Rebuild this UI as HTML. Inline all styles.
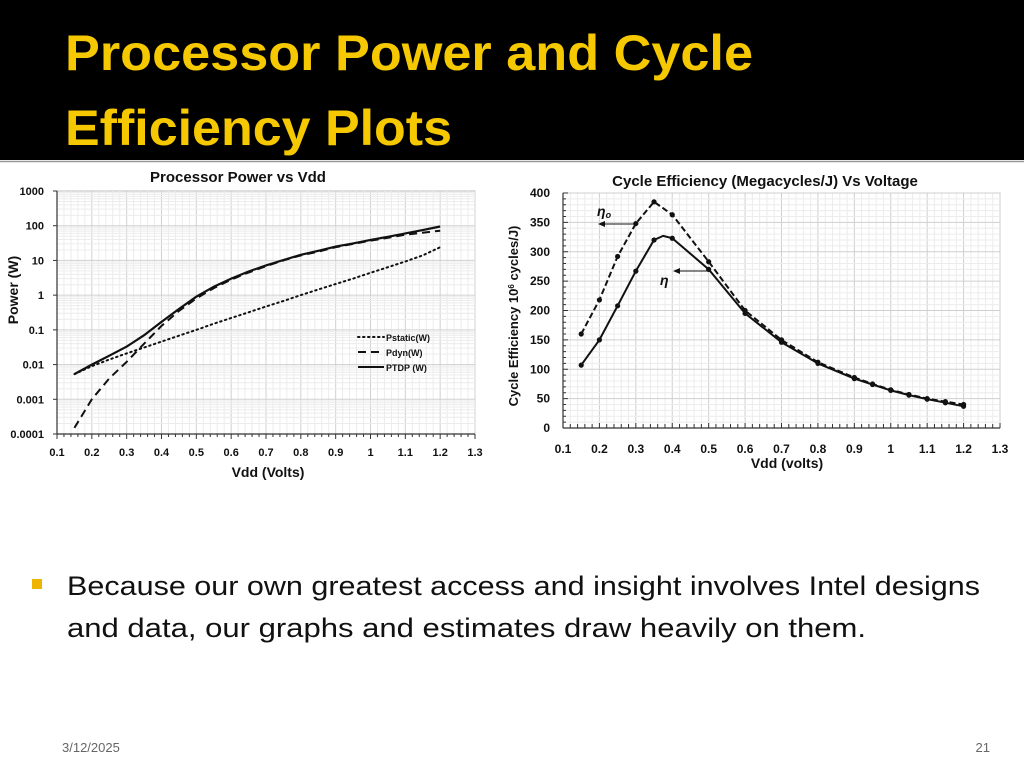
<!DOCTYPE html>
<html><head><meta charset="utf-8"><style>
html,body{margin:0;padding:0;background:#fff;}
svg{display:block;font-family:"Liberation Sans",sans-serif;}
</style></head><body>
<svg id="page" width="1024" height="768" viewBox="0 0 1024 768">
<rect x="0" y="0" width="1024" height="160" fill="#000"/>
<text x="65" y="70" font-size="50" font-weight="bold" fill="#f5c800" textLength="688" lengthAdjust="spacingAndGlyphs">Processor Power and Cycle</text>
<text x="65" y="145" font-size="50" font-weight="bold" fill="#f5c800" textLength="387" lengthAdjust="spacingAndGlyphs">Efficiency Plots</text>
<line x1="0" y1="161.5" x2="1024" y2="161.5" stroke="#999" stroke-width="1.5"/>
<g id="left"></g>
<g id="right"></g>
<rect x="32" y="579" width="10" height="10" fill="#f0b400"/>
<text x="67" y="595" font-size="27" fill="#111" textLength="913" lengthAdjust="spacingAndGlyphs">Because our own greatest access and insight involves Intel designs</text>
<text x="67" y="637" font-size="27" fill="#111" textLength="799" lengthAdjust="spacingAndGlyphs">and data, our graphs and estimates draw heavily on them.</text>
<text x="62" y="752" font-size="13" fill="#666">3/12/2025</text>
<text x="990" y="752" font-size="13" fill="#666" text-anchor="end">21</text>
</svg>
<script>
const NS="http://www.w3.org/2000/svg";
// ---- Power chart data ----
const vddPower=[0.15,0.2,0.25,0.3,0.35,0.4,0.45,0.5,0.55,0.6,0.65,0.7,0.75,0.8,0.85,0.9,0.95,1.0,1.05,1.1,1.15,1.2];
const pStatic=[0.0053,0.009,0.014,0.021,0.031,0.046,0.068,0.1,0.15,0.22,0.32,0.47,0.68,1.0,1.45,2.1,3.0,4.4,6.4,9.3,14,24];
const pDyn=[0.00015,0.001,0.004,0.012,0.04,0.13,0.35,0.8,1.6,2.8,4.5,6.8,10,14,18,24,30,37,45,55,63,72];
const pTDP=[0.0053,0.01,0.018,0.033,0.07,0.17,0.4,0.9,1.75,3.0,4.8,7.2,10.3,14.5,19,25,31,39,48,60,75,95];
const powerYTicks=["1000","100","10","1","0.1","0.01","0.001","0.0001"];
const xTickLabels=["0.1","0.2","0.3","0.4","0.5","0.6","0.7","0.8","0.9","1","1.1","1.2","1.3"];
// ---- Efficiency chart data ----
const vddEta0=[0.15,0.2,0.25,0.3,0.35,0.4,0.5,0.6,0.7,0.8,0.9,0.95,1.0,1.05,1.1,1.15,1.2];
const eta0=[160,218,292,348,385,363,283,200,150,112,86,75,65,57,50,45,40];
const vddEta=[0.15,0.2,0.25,0.3,0.35,0.375,0.4,0.5,0.6,0.7,0.8,0.9,0.95,1.0,1.05,1.1,1.15,1.2];
const eta=[107,150,208,267,320,327,323,270,195,146,110,84,74,64,56,49,43,37];
const effYTicks=[0,50,100,150,200,250,300,350,400];

function el(parent,tag,attrs){const e=document.createElementNS(NS,tag);for(const k in attrs)e.setAttribute(k,attrs[k]);parent.appendChild(e);return e;}
function txt(parent,x,y,s,attrs){const t=el(parent,'text',Object.assign({x:x,y:y},attrs));t.textContent=s;return t;}

// Left chart
(function(){
const g=document.getElementById('left');
const x0=57,x1=475,yTop=191,yBot=434;
const X=v=>x0+(v-0.1)/1.2*(x1-x0);
const Y=p=>yBot-(Math.log10(p)+4)/7*(yBot-yTop);
el(g,'rect',{x:x0,y:yTop,width:x1-x0,height:yBot-yTop,fill:'#fff',stroke:'#bbb'});
for(let i=0;i<=60;i++){const v=0.1+i*0.02;const l=el(g,'line',{x1:X(v),x2:X(v),y1:yTop,y2:yBot,stroke:i%5==0?'#d0d0d0':'#ececec','stroke-width':1});}
for(let d=-4;d<3;d++){for(let m=1;m<10;m++){const yy=Y(m*Math.pow(10,d));el(g,'line',{x1:x0,x2:x1,y1:yy,y2:yy,stroke:m==1?'#d0d0d0':'#ececec'});}}
el(g,'line',{x1:x0,x2:x1,y1:yBot,y2:yBot,stroke:'#333','stroke-width':1.2});
el(g,'line',{x1:x0,x2:x0,y1:yTop,y2:yBot,stroke:'#333','stroke-width':1.2});
for(let i=0;i<=60;i++){const v=0.1+i*0.02;el(g,'line',{x1:X(v),x2:X(v),y1:yBot,y2:yBot+(i%5==0?5:3),stroke:'#333'});}
xTickLabels.forEach((s)=>{const t=txt(g,X(parseFloat(s)),456,s,{'font-size':11,'font-weight':'bold','text-anchor':'middle',fill:'#111'});});
powerYTicks.forEach((s)=>{const t=txt(g,44,Y(parseFloat(s))+4,s,{'font-size':11,'font-weight':'bold','text-anchor':'end',fill:'#111'});el(g,'line',{x1:x0-4,x2:x0,y1:Y(parseFloat(s)),y2:Y(parseFloat(s)),stroke:'#333'});});
let t=txt(g,238,182,'Processor Power vs Vdd',{'font-size':15,'font-weight':'bold','text-anchor':'middle',fill:'#111'});

t=txt(g,268,477,'Vdd (Volts)',{'font-size':14,'font-weight':'bold','text-anchor':'middle',fill:'#111'});

t=txt(g,0,0,'Power (W)',{'font-size':14,'font-weight':'bold','text-anchor':'middle',fill:'#111',transform:'translate(18,290) rotate(-90)'});

function series(xs,ys,dash,w,name){const d=xs.map((v,i)=>(i?'L':'M')+X(v).toFixed(1)+','+Y(ys[i]).toFixed(1)).join(' ');const p=el(g,'path',{d:d,fill:'none',stroke:'#111','stroke-width':w,'stroke-dasharray':dash,'stroke-linecap':dash=='1.5 3.5'?'round':'butt'});}
series(vddPower,pStatic,'1.5 3.5',2,'pstatic-line');
series(vddPower,pDyn,'8 5',2,'pdyn-line');
series(vddPower,pTDP,'none',2.2,'ptdp-line');
const lg=el(g,'g',{});
[['1.5 3.5','Pstatic(W)',341],['8 5','Pdyn(W)',356],['none','PTDP (W)',371]].forEach(a=>{el(lg,'line',{x1:358,x2:384,y1:a[2]-4,y2:a[2]-4,stroke:'#111','stroke-width':2,'stroke-dasharray':a[0],'stroke-linecap':a[0]=='1.5 3.5'?'round':'butt'});const tt=txt(lg,386,a[2],a[1],{'font-size':9,'font-weight':'bold',fill:'#111'});});
})();

// Right chart
(function(){
const g=document.getElementById('right');
const x0=563,x1=1000,yTop=193,yBot=428;
const X=v=>x0+(v-0.1)/1.2*(x1-x0);
const Y=v=>yBot-v/400*(yBot-yTop);
el(g,'rect',{x:x0,y:yTop,width:x1-x0,height:yBot-yTop,fill:'#fff',stroke:'#bbb'});
for(let i=0;i<=60;i++){const v=0.1+i*0.02;el(g,'line',{x1:X(v),x2:X(v),y1:yTop,y2:yBot,stroke:i%5==0?'#cfcfcf':'#ececec'});}
for(let i=0;i<=40;i++){const yy=Y(i*10);el(g,'line',{x1:x0,x2:x1,y1:yy,y2:yy,stroke:i%5==0?'#cfcfcf':'#ececec'});}
el(g,'line',{x1:x0,x2:x1,y1:yBot,y2:yBot,stroke:'#333','stroke-width':1.2});
el(g,'line',{x1:x0,x2:x0,y1:yTop,y2:yBot,stroke:'#333','stroke-width':1.2});
for(let i=0;i<=60;i++){const v=0.1+i*0.02;el(g,'line',{x1:X(v),x2:X(v),y1:yBot,y2:yBot-(i%5==0?5:4),stroke:'#333'});}
for(let i=0;i<=40;i++){el(g,'line',{x1:x0,x2:x0+(i%5==0?5:3),y1:Y(i*10),y2:Y(i*10),stroke:'#333'});}
xTickLabels.forEach(s=>{const t=txt(g,X(parseFloat(s)),453,s,{'font-size':12,'font-weight':'bold','text-anchor':'middle',fill:'#111'});});
effYTicks.forEach(v=>{const t=txt(g,550,Y(v)+4,String(v),{'font-size':12,'font-weight':'bold','text-anchor':'end',fill:'#111'});});
let t=txt(g,765,186,'Cycle Efficiency (Megacycles/J) Vs Voltage',{'font-size':15,'font-weight':'bold','text-anchor':'middle',fill:'#111'});

t=txt(g,787,468,'Vdd (volts)',{'font-size':14,'font-weight':'bold','text-anchor':'middle',fill:'#111'});

t=el(g,'text',{x:0,y:0,'font-size':13,'font-weight':'bold','text-anchor':'middle',fill:'#111',transform:'translate(518,316) rotate(-90)'});
t.innerHTML='Cycle Efficiency 10<tspan baseline-shift="super" font-size="8">6</tspan> cycles/J)';

function series(xs,ys,dash,name){const d=xs.map((v,i)=>(i?'L':'M')+X(v).toFixed(1)+','+Y(ys[i]).toFixed(1)).join(' ');const p=el(g,'path',{d:d,fill:'none',stroke:'#111','stroke-width':2,'stroke-dasharray':dash,'stroke-linejoin':'round'});
xs.forEach((v,i)=>{if(name=='eta-line'&&v==0.375)return;const c=el(g,'circle',{cx:X(v),cy:Y(ys[i]),r:2.6,fill:'#111'});});}
series(vddEta0,eta0,'6 3','eta0-line');
series(vddEta,eta,'none','eta-line');
// annotations
el(g,'line',{x1:637,x2:603,y1:224,y2:224,stroke:'#111','stroke-width':1});
el(g,'path',{d:'M598,224 L605,221 L605,227 Z',fill:'#111'});
el(g,'line',{x1:710,x2:678,y1:271,y2:271,stroke:'#111','stroke-width':1});
el(g,'path',{d:'M673,271 L680,268 L680,274 Z',fill:'#111'});
t=el(g,'text',{x:597,y:216,'font-size':14,'font-style':'italic','font-weight':'bold',fill:'#111'});
t.innerHTML='η<tspan font-size="9" dy="2">o</tspan>';

t=txt(g,660,285,'η',{'font-size':14,'font-style':'italic','font-weight':'bold',fill:'#111'});

})();
</script>
</body></html>
